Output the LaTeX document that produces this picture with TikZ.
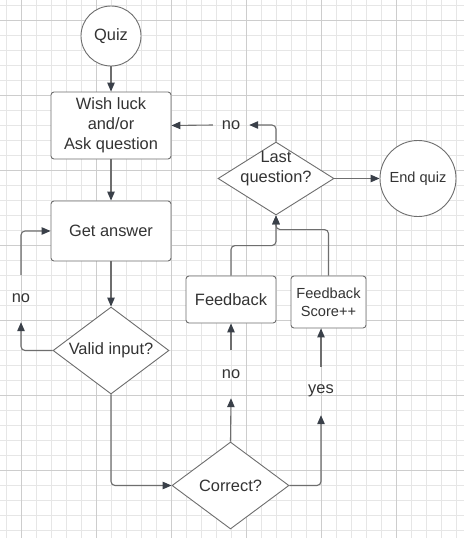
\documentclass[tikz,border=0pt]{standalone}
\usepackage{fontspec}
\setmainfont{Liberation Sans}
\usetikzlibrary{shapes.geometric, arrows.meta, positioning}

\definecolor{gridminor}{HTML}{E6E6E6}
\definecolor{gridmajor}{HTML}{CDCDCD}
\definecolor{edge}{HTML}{6E6E6E}
\definecolor{tip}{HTML}{3A4049}
\definecolor{ink}{HTML}{333333}

\begin{document}
\begin{tikzpicture}
  [
    x=1pt, y=-1pt,
    Round/.style={circle, draw=edge, fill=white, line width=0.9pt, text=ink, inner sep=0pt},
    Box/.style={rectangle, rounded corners=3pt, draw=edge, fill=white, line width=0.9pt, text=ink, align=center, inner sep=0pt},
    Diamond/.style={diamond, draw=edge, fill=white, line width=0.9pt, text=ink, align=center, inner sep=0pt},
    Word/.style={text=ink, inner sep=0pt},
    Line/.style={draw=edge, line width=1.1pt, rounded corners=4pt, -{Triangle[length=9pt, width=7.5pt, color=tip]}},
    Big/.style={font=\fontsize{16.4}{20}\selectfont},
    Small/.style={font=\fontsize{14.6}{18}\selectfont}
  ]
  \useasboundingbox (0,0) rectangle (464,538);
  \fill[white] (0,0) rectangle (464,538);

  % Grid
  \foreach \gx in {6,21,...,456} \draw[gridminor, line width=0.6pt] (\gx,0) -- (\gx,538);
  \foreach \gy in {5,20,...,530} \draw[gridminor, line width=0.6pt] (0,\gy) -- (464,\gy);
  \foreach \gx in {21,96,...,400} \draw[gridmajor, line width=0.7pt] (\gx,0) -- (\gx,538);
  \foreach \gy in {20,95,...,500} \draw[gridmajor, line width=0.7pt] (0,\gy) -- (464,\gy);

  % Nodes
  \node[Round, Big, minimum size=60pt] (quiz) at (111, 36) {Quiz};
  \node[Box, Big, minimum width=120pt, minimum height=67pt] (wish) at (111, 125.5) {Wish luck\\and/or\\Ask question};
  \node[Box, Big, minimum width=120pt, minimum height=60pt] (get) at (111, 231) {Get answer};
  \node[Diamond, Big, minimum width=116pt, minimum height=87pt, aspect=1.33] (valid) at (111, 350.5) {Valid input?};
  \node[Diamond, Big, minimum width=117pt, minimum height=87pt, aspect=1.34] (correct) at (230.5, 485.5) {Correct?};
  \node[Box, Big, minimum width=90pt, minimum height=47pt] (fb) at (231, 299.5) {Feedback};
  \node[Box, Small, minimum width=75pt, minimum height=52pt] (score) at (328.5, 302) {Feedback\\Score++};
  \node[Diamond, minimum width=116pt, minimum height=73pt,
    label={[Word, Big, align=center, yshift=9.5pt]center:{Last\\question?}}] (last) at (276, 178.5) {};
  \node[Round, Small, minimum size=76pt] (end) at (418, 178.5) {End quiz};

  % Labels on the lines
  \node[Word, Big, minimum height=47pt] (noloop) at (21, 298.5) {no};
  \node[Word, Big, minimum height=48pt] (nowrong) at (231, 374) {no};
  \node[Word, Big, minimum height=48pt] (yesright) at (321, 391) {yes};
  \node[Word, Big, minimum width=36pt] (nonext) at (231, 125) {no};

  % Lines
  \path [Line] (quiz) -- (wish);
  \path [Line] (wish) -- (get);
  \path [Line] (get) -- (valid);
  \path [Line] (valid.west) -| (noloop.south);
  \path [Line] (noloop.north) |- (get.west);
  \path [Line] (valid.south) |- (correct.west);
  \path [Line] (correct.north) -- (nowrong.south);
  \path [Line] (nowrong.north) -- (fb.south);
  \path [Line] (correct.east) -| (yesright.south);
  \path [Line] (yesright.north) -- (yesright.north |- score.south);
  \path [Line] (fb.north) -- ++(0,-30) -| (last.south);
  \path [Line] (score.north) -- ++(0,-46) -| (last.south);
  \path [Line] (last.north) |- (nonext.east);
  \path [Line] (nonext.west) -- (wish.east);
  \path [Line] (last.east) -- (end.west);

\end{tikzpicture}
\end{document}
